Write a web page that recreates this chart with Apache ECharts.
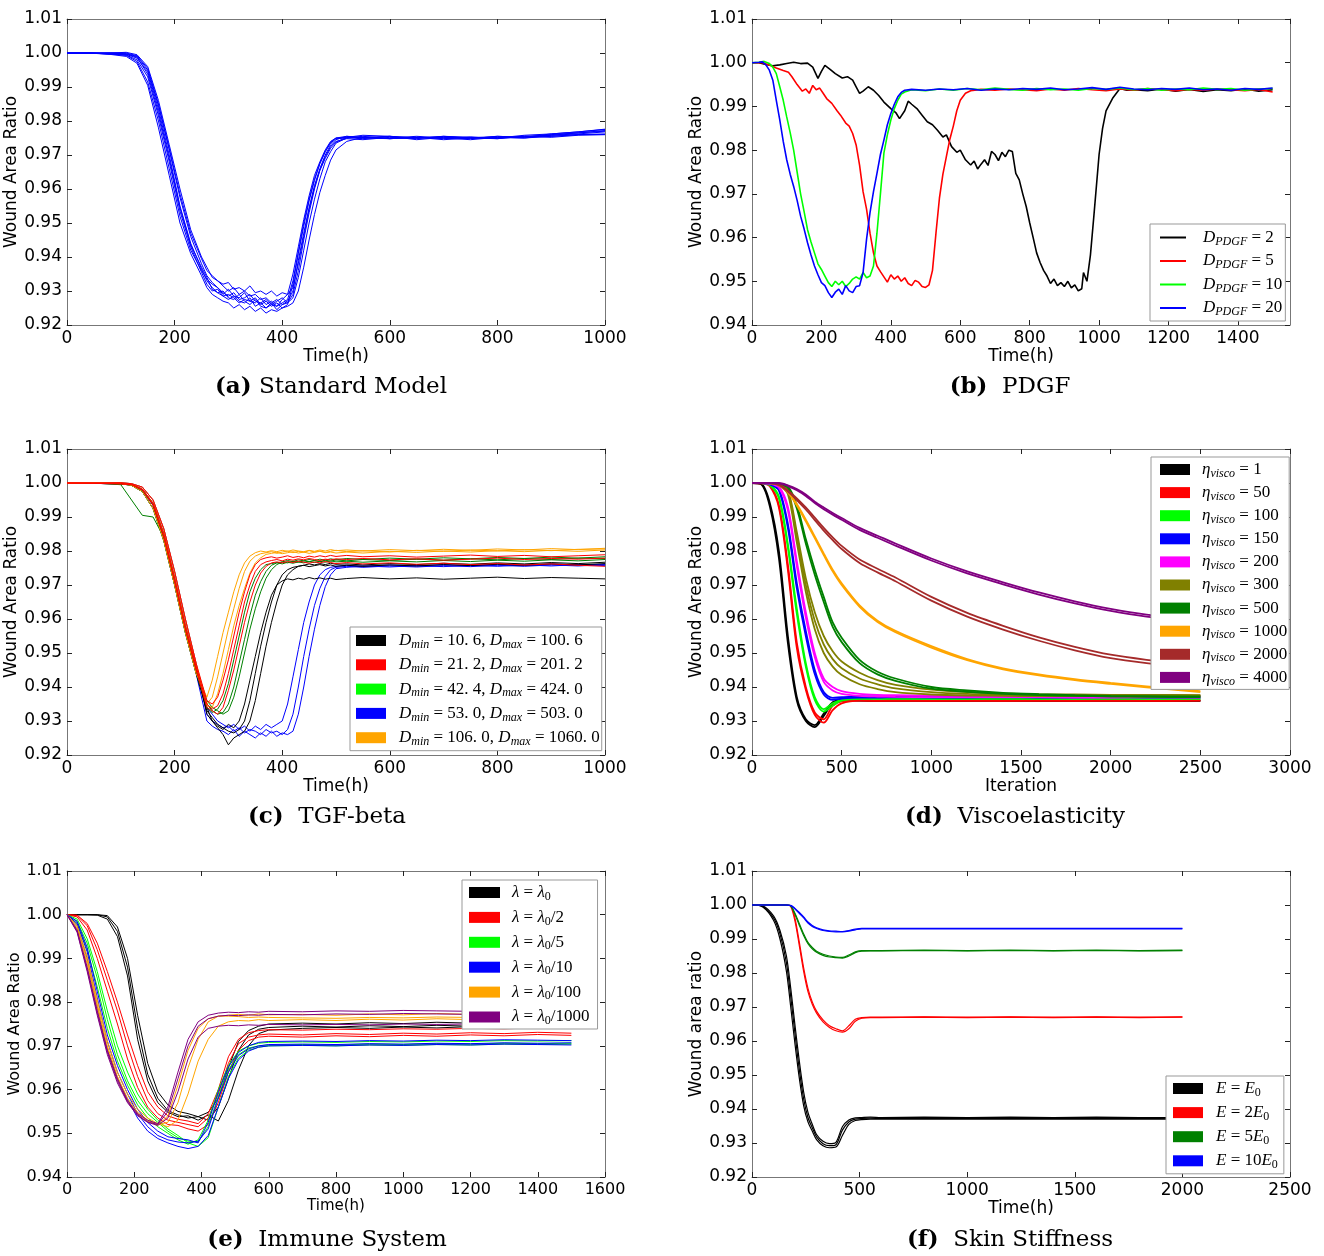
<!DOCTYPE html>
<html><head><meta charset="utf-8">
<script src="https://cdn.jsdelivr.net/npm/echarts@6/dist/echarts.min.js"></script>
<style>html,body{margin:0;padding:0;background:#fff}#c{width:1324px;height:1256px}</style>
</head><body><div id="c"></div>
<script>
// ---------------- Panel (a) Standard Model ----------------
const A_X = [0,40,80,110,130,150,170,190,210,230,250,260,270,280,290,300,310,320,330,340,350,360,370,380,390,400,410,420,430,440,450,460,470,480,490,500,520,550,600,650,700,750,800,850,900,950,1000];
const A_1 = [1,1,.9997,.9993,.9975,.9915,.9800,.9660,.9520,.9420,.9360,.9335,.9320,.9310,.9290,.9305,.9285,.9280,.9295,.9270,.9265,.9280,.9260,.9270,.9255,.9275,.9290,.9350,.9430,.9510,.9580,.9640,.9680,.9715,.9740,.9750,.9752,.9748,.9755,.9745,.9752,.9748,.9755,.9752,.9760,.9765,.9772];
const A_2 = [1,1,1,1.0002,.9995,.9960,.9860,.9730,.9600,.9480,.9400,.9370,.9340,.9330,.9315,.9300,.9310,.9290,.9300,.9285,.9290,.9275,.9280,.9265,.9275,.9260,.9265,.9280,.9340,.9420,.9500,.9570,.9630,.9680,.9710,.9735,.9750,.9755,.9748,.9752,.9745,.9750,.9748,.9755,.9755,.9760,.9760];
const A_3 = [1,1,.9998,.9996,.9985,.9945,.9835,.9700,.9550,.9440,.9365,.9330,.9310,.9295,.9300,.9280,.9275,.9290,.9270,.9260,.9275,.9255,.9250,.9265,.9245,.9260,.9270,.9300,.9390,.9470,.9545,.9610,.9660,.9700,.9730,.9745,.9755,.9752,.9750,.9755,.9750,.9753,.9750,.9758,.9762,.9768,.9775];
const A_4 = [1,1,.9999,.9998,.9990,.9950,.9845,.9715,.9575,.9460,.9380,.9345,.9325,.9310,.9295,.9285,.9295,.9275,.9280,.9290,.9270,.9265,.9275,.9260,.9270,.9280,.9265,.9290,.9360,.9450,.9530,.9600,.9655,.9695,.9725,.9740,.9748,.9745,.9752,.9748,.9755,.9750,.9752,.9750,.9755,.9760,.9762];
const A_5 = [1,1,.9996,.9990,.9970,.9905,.9780,.9640,.9500,.9410,.9345,.9310,.9290,.9280,.9270,.9265,.9250,.9260,.9245,.9255,.9240,.9250,.9235,.9245,.9240,.9250,.9260,.9320,.9410,.9490,.9565,.9625,.9675,.9710,.9738,.9750,.9755,.9750,.9748,.9752,.9748,.9752,.9748,.9755,.9758,.9762,.9768];
const A_6 = [1,1,1.0001,1,.9992,.9955,.9850,.9720,.9585,.9470,.9395,.9360,.9345,.9330,.9320,.9325,.9305,.9310,.9300,.9315,.9295,.9300,.9290,.9300,.9285,.9295,.9290,.9310,.9380,.9460,.9540,.9605,.9655,.9690,.9720,.9738,.9752,.9758,.9755,.9750,.9755,.9752,.9750,.9755,.9752,.9758,.9760];
const A_7 = [1,1,.9998,.9997,.9988,.9938,.9825,.9690,.9545,.9435,.9370,.9340,.9305,.9295,.9285,.9290,.9280,.9265,.9275,.9270,.9280,.9260,.9270,.9255,.9265,.9250,.9255,.9265,.9300,.9370,.9450,.9525,.9590,.9640,.9685,.9715,.9740,.9752,.9748,.9752,.9750,.9745,.9752,.9750,.9758,.9765,.9770];
const A_8 = [1,1,.9997,.9994,.9980,.9930,.9815,.9680,.9535,.9430,.9355,.9320,.9300,.9305,.9285,.9275,.9285,.9270,.9265,.9280,.9255,.9265,.9250,.9260,.9255,.9265,.9275,.9330,.9415,.9500,.9570,.9630,.9675,.9710,.9735,.9748,.9750,.9752,.9755,.9750,.9753,.9750,.9755,.9752,.9762,.9768,.9776];

// ---------------- Panel (b) PDGF ----------------
const B_D2 = [[0,1],[20,1],[40,.9996],[60,.9993],[80,.9995],[100,.9998],[120,1.0001],[140,.9998],[160,.9999],[175,.9990],[190,.9964],[200,.9980],[210,.9994],[225,.9985],[240,.9975],[260,.9965],[275,.9968],[290,.9960],[300,.9945],[310,.9930],[320,.9935],[335,.9945],[350,.9937],[365,.9925],[380,.9910],[400,.9895],[415,.9885],[425,.9872],[440,.9890],[450,.9912],[460,.9905],[475,.9895],[490,.9880],[505,.9865],[520,.9858],[535,.9845],[550,.9830],[560,.9835],[575,.9808],[590,.9795],[600,.9800],[615,.9778],[630,.9766],[640,.9775],[650,.9757],[660,.9768],[670,.9778],[680,.9765],[690,.9797],[700,.9790],[710,.9776],[720,.9795],[730,.9785],[740,.9800],[750,.9797],[760,.9747],[770,.9732],[780,.9700],[790,.9671],[800,.9634],[810,.9600],[820,.9565],[830,.9543],[840,.9525],[850,.9512],[860,.9495],[870,.9505],[880,.9490],[890,.9497],[900,.9488],[910,.9500],[920,.9485],[930,.9492],[940,.9478],[950,.9483],[955,.9520],[965,.9500],[975,.9560],[985,.9650],[1000,.9790],[1010,.9850],[1020,.9890],[1040,.9920],[1060,.9941],[1080,.9937],[1100,.9938],[1140,.9936],[1180,.9940],[1220,.9935],[1260,.9939],[1300,.9934],[1340,.9938],[1380,.9936],[1420,.9940],[1460,.9935],[1500,.9938]];
const B_D5 = [[0,1],[30,1],[50,.9995],[70,.9988],[90,.9982],[105,.9978],[115,.9968],[130,.9950],[145,.9935],[155,.9940],[165,.9930],[175,.9948],[185,.9938],[195,.9942],[205,.9930],[215,.9918],[230,.9907],[245,.9890],[255,.9880],[270,.9862],[280,.9855],[290,.9838],[300,.9812],[310,.9765],[320,.9705],[330,.9665],[340,.9610],[350,.9565],[360,.9535],[370,.9522],[380,.9510],[390,.9498],[400,.9515],[410,.9505],[420,.9512],[430,.9500],[440,.9508],[450,.9495],[460,.9490],[470,.9502],[480,.9498],[490,.9488],[500,.9486],[510,.9492],[520,.9525],[530,.9610],[540,.9690],[550,.9745],[560,.9785],[570,.9825],[580,.9855],[590,.9890],[600,.9914],[615,.9930],[630,.9936],[660,.9939],[700,.9937],[740,.9940],[780,.9938],[820,.9936],[860,.9940],[900,.9937],[940,.9941],[980,.9938],[1020,.9936],[1060,.9940],[1100,.9937],[1140,.9941],[1180,.9938],[1220,.9936],[1260,.9939],[1300,.9937],[1340,.9940],[1380,.9938],[1420,.9936],[1460,.9939],[1500,.9933]];
const B_D10 = [[0,1],[20,1.0001],[35,1.0003],[50,.9998],[60,.9990],[70,.9975],[80,.9945],[90,.9914],[100,.9876],[110,.9840],[120,.9800],[130,.9750],[140,.9700],[150,.9660],[160,.9618],[170,.9590],[180,.9565],[190,.9540],[200,.9527],[210,.9512],[220,.9497],[230,.9488],[240,.9500],[250,.9492],[260,.9500],[270,.9488],[280,.9495],[290,.9505],[300,.9510],[310,.9505],[320,.9520],[330,.9508],[340,.9512],[350,.9535],[360,.9610],[370,.9700],[380,.9793],[390,.9835],[400,.9869],[410,.9895],[420,.9914],[430,.9928],[440,.9933],[460,.9938],[500,.9936],[540,.9940],[580,.9937],[620,.9941],[660,.9938],[700,.9942],[740,.9939],[780,.9937],[820,.9941],[860,.9938],[900,.9940],[940,.9937],[980,.9941],[1020,.9939],[1060,.9942],[1100,.9938],[1140,.9941],[1180,.9937],[1220,.9940],[1260,.9938],[1300,.9942],[1340,.9939],[1380,.9941],[1420,.9937],[1460,.9940],[1500,.9941]];
const B_D20 = [[0,1],[20,1.0001],[30,1.0002],[40,.9995],[50,.9983],[60,.9960],[70,.9914],[80,.9869],[90,.9820],[100,.9778],[110,.9745],[120,.9717],[130,.9685],[140,.9649],[150,.9620],[160,.9588],[170,.9560],[180,.9535],[190,.9515],[200,.9497],[210,.9490],[220,.9474],[230,.9463],[240,.9475],[250,.9482],[260,.9470],[270,.9490],[280,.9478],[290,.9474],[300,.9488],[310,.9490],[320,.9520],[330,.9596],[340,.9657],[350,.9705],[360,.9747],[370,.9790],[380,.9823],[390,.9858],[400,.9884],[410,.9905],[420,.9922],[430,.9932],[440,.9937],[460,.9939],[500,.9937],[540,.9940],[580,.9938],[620,.9941],[660,.9937],[700,.9940],[740,.9938],[780,.9941],[820,.9939],[860,.9942],[900,.9938],[940,.9940],[980,.9943],[1020,.9939],[1060,.9944],[1100,.9940],[1140,.9938],[1180,.9941],[1220,.9939],[1260,.9942],[1300,.9938],[1340,.9940],[1380,.9937],[1420,.9941],[1460,.9939],[1500,.9942]];

// ---------------- Panel (c) TGF-beta ----------------
const C_X = [0,50,100,120,140,160,180,200,220,240,260,270,280,290,300,310,320,330,340,350,360,370,380,390,400,410,420,430,440,450,460,470,480,490,500,520,550,600,650,700,750,800,850,900,950,1000];
const C_F1 = [1,1,.9999,.9996,.9982,.9940,.9850,.9720,.9580,.9460];
const C_F2 = [1,1,.9998,.9993,.9975,.9925,.9830,.9700,.9560,.9440];
const C_F3 = [1,1,1.0001,.9998,.9988,.9950,.9865,.9740,.9600,.9470];
const C_F4 = [1,1,.9995,.9950,.9905,.9900,.9840,.9710,.9570,.9450];
const C_F5 = [1,.9999,.9997,.9995,.9980,.9935,.9840,.9710,.9570,.9450];
const C_K1 = [...C_F2,.9330,.9310,.9290,.9280,.9270,.9265,.9275,.9300,.9360,.9440,.9520,.9590,.9650,.9700,.9730,.9745,.9752,.9755,.9758,.9754,.9757,.9760,.9756,.9759,.9755,.9758,.9755,.9759,.9756,.9760,.9757,.9761,.9758,.9762,.9759,.9763];
const C_K2 = [...C_F5,.9340,.9300,.9280,.9260,.9230,.9250,.9260,.9270,.9300,.9360,.9440,.9520,.9590,.9650,.9700,.9730,.9745,.9755,.9758,.9762,.9759,.9763,.9760,.9764,.9761,.9762,.9759,.9763,.9760,.9764,.9761,.9765,.9762,.9766,.9763,.9767];
const C_K3 = [...C_F1,.9320,.9300,.9285,.9275,.9290,.9280,.9300,.9350,.9420,.9490,.9560,.9620,.9670,.9700,.9712,.9718,.9715,.9720,.9717,.9722,.9718,.9721,.9717,.9720,.9716,.9719,.9722,.9718,.9721,.9717,.9720,.9723,.9719,.9722,.9720,.9718];
const C_B1 = [...C_F3,.9320,.9300,.9290,.9280,.9285,.9270,.9280,.9265,.9275,.9270,.9260,.9275,.9265,.9270,.9260,.9275,.9320,.9400,.9490,.9570,.9640,.9690,.9725,.9745,.9752,.9755,.9752,.9756,.9753,.9757,.9754,.9758,.9755,.9759,.9756,.9760];
const C_B2 = [...C_F2,.9300,.9285,.9275,.9270,.9260,.9275,.9255,.9270,.9260,.9250,.9265,.9255,.9270,.9255,.9265,.9260,.9270,.9320,.9400,.9490,.9570,.9640,.9695,.9730,.9748,.9752,.9756,.9753,.9757,.9754,.9758,.9755,.9759,.9756,.9760,.9757];
const C_B3 = [...C_F5,.9340,.9320,.9300,.9290,.9280,.9290,.9275,.9285,.9270,.9285,.9275,.9290,.9280,.9290,.9300,.9350,.9430,.9510,.9590,.9650,.9700,.9730,.9745,.9752,.9755,.9758,.9755,.9759,.9756,.9760,.9757,.9761,.9758,.9762,.9759,.9761];
const C_G1 = [...C_F2,.9350,.9330,.9320,.9325,.9350,.9400,.9470,.9540,.9610,.9670,.9710,.9740,.9758,.9765,.9768,.9765,.9770,.9767,.9771,.9768,.9772,.9769,.9773,.9770,.9774,.9771,.9775,.9772,.9776,.9773,.9777,.9774,.9778,.9775,.9779,.9778];
const C_G2 = [...C_F1,.9360,.9340,.9330,.9320,.9330,.9370,.9430,.9500,.9570,.9630,.9680,.9720,.9745,.9760,.9768,.9772,.9769,.9774,.9771,.9775,.9772,.9776,.9773,.9777,.9774,.9778,.9775,.9779,.9776,.9780,.9777,.9781,.9778,.9782,.9779,.9783];
const C_G3 = [...C_F4,.9340,.9325,.9335,.9360,.9410,.9480,.9550,.9620,.9680,.9720,.9745,.9760,.9763,.9766,.9762,.9767,.9764,.9768,.9765,.9769,.9766,.9770,.9767,.9771,.9768,.9770,.9767,.9771,.9768,.9772,.9769,.9773,.9770,.9774,.9771,.9775];
const C_O1 = [...C_F3,.9350,.9370,.9430,.9500,.9570,.9630,.9690,.9740,.9770,.9785,.9792,.9795,.9798,.9793,.9797,.9800,.9795,.9799,.9796,.9801,.9797,.9800,.9796,.9799,.9802,.9798,.9801,.9797,.9802,.9799,.9803,.9800,.9804,.9801,.9805,.9806];
const C_O2 = [...C_F1,.9345,.9340,.9380,.9440,.9510,.9580,.9640,.9690,.9735,.9765,.9780,.9790,.9793,.9796,.9792,.9795,.9798,.9794,.9797,.9793,.9796,.9799,.9795,.9797,.9794,.9797,.9794,.9799,.9796,.9800,.9797,.9801,.9798,.9802,.9799,.9803];
const C_O3 = [...C_F2,.9370,.9420,.9490,.9560,.9620,.9680,.9730,.9765,.9785,.9795,.9800,.9797,.9801,.9798,.9802,.9799,.9803,.9800,.9798,.9802,.9799,.9803,.9800,.9804,.9801,.9803,.9800,.9804,.9801,.9805,.9802,.9806,.9803,.9807,.9804,.9808];
const C_R1 = [...C_F1,.9350,.9335,.9345,.9380,.9440,.9510,.9580,.9650,.9700,.9740,.9760,.9768,.9772,.9775,.9771,.9776,.9773,.9777,.9774,.9778,.9775,.9772,.9776,.9774,.9777,.9775,.9778,.9774,.9777,.9773,.9776,.9779,.9775,.9778,.9776,.9779];
const C_R2 = [...C_F5,.9340,.9330,.9320,.9340,.9390,.9450,.9520,.9590,.9650,.9700,.9735,.9755,.9765,.9768,.9765,.9769,.9766,.9770,.9767,.9764,.9768,.9765,.9769,.9766,.9763,.9766,.9762,.9765,.9761,.9764,.9760,.9763,.9759,.9762,.9758,.9755];
const C_R3 = [...C_F3,.9360,.9350,.9370,.9420,.9480,.9550,.9620,.9680,.9730,.9760,.9775,.9780,.9783,.9779,.9782,.9786,.9781,.9784,.9780,.9785,.9782,.9786,.9783,.9787,.9784,.9787,.9783,.9786,.9782,.9785,.9788,.9784,.9787,.9783,.9786,.9789];

// ---------------- Panel (d) Viscoelasticity ----------------
const D_X = [0,50,100,150,200,250,300,350,400,450,500,600,700,800,1000,1200,1400,1600,1800,2000,2200,2500];
const D_1a = [1,.9998,.9940,.9800,.9550,.9370,.9305,.9288,.9322,.9355,.9362,.9361,.9360,.9361,.9360,.9360,.9361,.9360,.9360,.9361,.9360,.9360];
const D_1b = [1,.9997,.9930,.9780,.9530,.9360,.9300,.9282,.9315,.9352,.9360,.9360,.9359,.9360,.9359,.9359,.9360,.9359,.9359,.9360,.9359,.9359];
const D_50a = [1,1,.9992,.9935,.9760,.9530,.9400,.9325,.9305,.9345,.9358,.9361,.9360,.9361,.9360,.9361,.9360,.9361,.9360,.9361,.9360,.9361];
const D_50b = [1,.9999,.9990,.9928,.9745,.9515,.9392,.9318,.9295,.9332,.9352,.9360,.9359,.9360,.9359,.9360,.9359,.9360,.9359,.9360,.9359,.9360];
const D_100a = [1,1,.9995,.9960,.9820,.9630,.9470,.9370,.9335,.9352,.9362,.9366,.9366,.9367,.9366,.9366,.9367,.9366,.9366,.9367,.9366,.9366];
const D_100b = [1,1,.9993,.9955,.9810,.9615,.9460,.9362,.9328,.9345,.9360,.9365,.9365,.9366,.9365,.9365,.9366,.9365,.9365,.9366,.9365,.9365];
const D_150a = [1,1,.9997,.9982,.9880,.9705,.9565,.9450,.9385,.9368,.9370,.9372,.9372,.9373,.9372,.9372,.9373,.9372,.9372,.9373,.9372,.9372];
const D_150b = [1,1,.9996,.9978,.9868,.9690,.9550,.9438,.9378,.9362,.9366,.9369,.9369,.9370,.9369,.9369,.9370,.9369,.9369,.9370,.9369,.9369];
const D_200a = [1,1,.9999,.9990,.9930,.9770,.9620,.9500,.9425,.9400,.9388,.9380,.9377,.9376,.9375,.9375,.9374,.9375,.9374,.9374,.9375,.9374];
const D_200b = [1,1,.9998,.9986,.9920,.9755,.9605,.9488,.9415,.9390,.9380,.9374,.9372,.9371,.9370,.9370,.9370,.9370,.9369,.9369,.9370,.9369];
const D_300a = [1,1,1,.9995,.9975,.9840,.9700,.9595,.9525,.9482,.9455,.9425,.9408,.9396,.9385,.9380,.9378,.9377,.9376,.9376,.9376,.9375];
const D_300b = [1,1,.9999,.9993,.9968,.9825,.9680,.9570,.9500,.9460,.9435,.9408,.9394,.9385,.9378,.9375,.9374,.9373,.9373,.9373,.9372,.9372];
const D_300c = [1,1,1,.9996,.9980,.9855,.9720,.9620,.9550,.9505,.9475,.9442,.9420,.9406,.9392,.9385,.9381,.9379,.9378,.9377,.9377,.9376];
const D_500a = [1,1,1,.9998,.9990,.9935,.9835,.9745,.9665,.9590,.9545,.9480,.9445,.9425,.9400,.9390,.9383,.9379,.9376,.9374,.9373,.9372];
const D_500b = [1,1,1,.9997,.9986,.9925,.9822,.9730,.9650,.9577,.9532,.9470,.9437,.9418,.9395,.9386,.9380,.9376,.9374,.9372,.9371,.9370];
const D_1000a = [1,1,1,.9995,.9975,.9938,.9892,.9843,.9793,.9745,.9705,.9640,.9595,.9565,.9520,.9482,.9455,.9437,.9423,.9412,.9402,.9388];
const D_1000b = [1,1,1,.9994,.9972,.9934,.9887,.9838,.9788,.9740,.9700,.9636,.9591,.9561,.9516,.9479,.9452,.9434,.9420,.9409,.9399,.9385];
const D_2000a = [1,1,1,.9995,.9978,.9955,.9928,.9898,.9868,.9840,.9815,.9775,.9748,.9722,.9665,.9618,.9580,.9546,.9518,.9495,.9480,.9462];
const D_2000b = [1,1,1,.9994,.9975,.9950,.9922,.9891,.9860,.9832,.9806,.9765,.9737,.9711,.9654,.9607,.9569,.9536,.9508,.9485,.9470,.9452];
const D_4000a = [1,1,1,1,.9993,.9982,.9966,.9945,.9928,.9912,.9897,.9868,.9845,.9822,.9778,.9740,.9708,.9678,.9652,.9630,.9613,.9595];
const D_4000b = [1,1,1,.9999,.9991,.9979,.9962,.9941,.9923,.9907,.9892,.9862,.9839,.9816,.9772,.9734,.9702,.9672,.9646,.9624,.9607,.9589];

// ---------------- Panel (e) Immune System ----------------
const E_X = [0,30,60,90,120,150,180,210,240,270,300,330,360,390,420,450,480,510,540,570,600,700,800,900,1000,1100,1200,1300,1400,1500];
const E_K1 = [1,1,1,1,.9995,.9962,.9880,.9740,.9635,.9580,.9552,.9542,.9535,.9538,.9530,.9560,.9625,.9690,.9725,.9738,.9742,.9745,.9743,.9746,.9744,.9747,.9745,.9748,.9746,.9748];
const E_K2 = [1,1,1,.9999,.9990,.9950,.9860,.9715,.9620,.9570,.9548,.9538,.9540,.9530,.9542,.9528,.9575,.9645,.9700,.9728,.9736,.9740,.9742,.9740,.9743,.9741,.9744,.9742,.9745,.9744];
const E_K3 = [1,1,1,1,.9998,.9972,.9900,.9770,.9660,.9595,.9565,.9550,.9545,.9538,.9548,.9580,.9650,.9710,.9735,.9745,.9750,.9752,.9750,.9753,.9751,.9754,.9752,.9755,.9753,.9754];
const E_R1 = [1,.9998,.9975,.9920,.9850,.9780,.9700,.9630,.9575,.9545,.9530,.9525,.9520,.9515,.9535,.9590,.9660,.9705,.9720,.9725,.9727,.9725,.9728,.9726,.9729,.9727,.9730,.9728,.9731,.9729];
const E_R2 = [1,.9995,.9965,.9900,.9825,.9750,.9670,.9605,.9560,.9535,.9520,.9518,.9510,.9505,.9520,.9570,.9640,.9690,.9712,.9720,.9722,.9720,.9723,.9721,.9724,.9722,.9725,.9723,.9726,.9724];
const E_R3 = [1,.9999,.9980,.9935,.9870,.9800,.9725,.9655,.9595,.9560,.9540,.9532,.9528,.9522,.9545,.9600,.9675,.9715,.9730,.9735,.9737,.9736,.9738,.9737,.9739,.9738,.9740,.9739,.9741,.9740];
const E_G1 = [1,.9985,.9935,.9855,.9760,.9680,.9620,.9575,.9545,.9525,.9505,.9490,.9482,.9480,.9515,.9585,.9645,.9680,.9695,.9700,.9702,.9703,.9702,.9704,.9703,.9705,.9704,.9706,.9705,.9706];
const E_G2 = [1,.9990,.9945,.9870,.9780,.9700,.9640,.9590,.9555,.9530,.9510,.9495,.9478,.9470,.9490,.9560,.9630,.9672,.9690,.9697,.9700,.9701,.9700,.9702,.9701,.9703,.9702,.9704,.9703,.9704];
const E_G3 = [1,.9980,.9920,.9835,.9740,.9665,.9610,.9565,.9535,.9515,.9500,.9485,.9475,.9485,.9530,.9600,.9655,.9688,.9700,.9706,.9708,.9709,.9708,.9710,.9709,.9711,.9710,.9712,.9711,.9712];
const E_B1 = [1,.9980,.9915,.9810,.9710,.9640,.9590,.9545,.9515,.9495,.9485,.9480,.9478,.9482,.9510,.9580,.9640,.9678,.9693,.9700,.9703,.9704,.9703,.9705,.9704,.9706,.9705,.9707,.9706,.9707];
const E_B2 = [1,.9975,.9900,.9790,.9690,.9625,.9578,.9535,.9505,.9488,.9478,.9470,.9465,.9470,.9495,.9560,.9625,.9668,.9688,.9697,.9700,.9701,.9700,.9702,.9701,.9703,.9702,.9704,.9703,.9702];
const E_B3 = [1,.9985,.9925,.9825,.9725,.9655,.9600,.9555,.9525,.9505,.9492,.9488,.9485,.9478,.9525,.9595,.9652,.9685,.9700,.9708,.9710,.9711,.9710,.9712,.9711,.9713,.9712,.9714,.9713,.9712];
const E_O1 = [1,.9970,.9895,.9795,.9700,.9630,.9580,.9548,.9530,.9520,.9525,.9570,.9650,.9715,.9755,.9768,.9770,.9772,.9770,.9773,.9771,.9772,.9770,.9773,.9771,.9774,.9772,.9773,.9771,.9773];
const E_O2 = [1,.9975,.9905,.9805,.9712,.9640,.9590,.9555,.9535,.9522,.9515,.9530,.9590,.9665,.9715,.9745,.9755,.9758,.9757,.9760,.9758,.9760,.9758,.9761,.9759,.9762,.9760,.9761,.9759,.9760];
const E_O3 = [1,.9968,.9888,.9788,.9695,.9625,.9575,.9545,.9528,.9518,.9540,.9610,.9690,.9740,.9762,.9768,.9768,.9767,.9765,.9766,.9765,.9764,.9763,.9765,.9764,.9766,.9765,.9766,.9764,.9765];
const E_P1 = [1,.9965,.9880,.9780,.9690,.9625,.9575,.9545,.9530,.9522,.9560,.9640,.9715,.9755,.9770,.9775,.9777,.9776,.9778,.9777,.9779,.9778,.9780,.9779,.9781,.9780,.9779,.9778,.9779,.9778];
const E_P2 = [1,.9960,.9870,.9770,.9680,.9615,.9570,.9540,.9525,.9518,.9535,.9595,.9670,.9720,.9740,.9745,.9747,.9746,.9748,.9747,.9749,.9748,.9749,.9748,.9750,.9749,.9750,.9749,.9750,.9749];
const E_P3 = [1,.9962,.9875,.9775,.9685,.9620,.9572,.9542,.9526,.9520,.9550,.9625,.9700,.9745,.9762,.9768,.9770,.9769,.9771,.9770,.9772,.9771,.9773,.9772,.9774,.9773,.9772,.9771,.9772,.9771];

// ---------------- Panel (f) Skin Stiffness ----------------
const F_X = [0,50,100,130,160,180,200,220,240,260,280,300,330,360,390,420,450,480,510,550,600,800,1000,1200,1400,1600,1800,2000];
const F_K1 = [1,.9996,.9962,.9915,.9830,.9730,.9620,.9515,.9430,.9375,.9345,.9318,.9298,.9292,.9295,.9338,.9362,.9370,.9372,.9373,.9372,.9373,.9372,.9373,.9372,.9373,.9372,.9373];
const F_K2 = [1,.9994,.9955,.9900,.9805,.9700,.9590,.9490,.9410,.9362,.9335,.9310,.9292,.9286,.9288,.9322,.9355,.9366,.9369,.9370,.9370,.9371,.9370,.9371,.9370,.9371,.9370,.9370];
const F_K3 = [1,.9997,.9968,.9925,.9850,.9755,.9645,.9540,.9450,.9390,.9355,.9325,.9305,.9298,.9302,.9348,.9368,.9374,.9375,.9376,.9375,.9376,.9375,.9376,.9375,.9376,.9375,.9375];
const F_R1 = [1,1,1,1,1,.9998,.9960,.9890,.9815,.9755,.9715,.9688,.9662,.9645,.9636,.9630,.9645,.9664,.9669,.9670,.9670,.9671,.9670,.9671,.9670,.9671,.9670,.9671];
const F_R2 = [1,1,1,1,1,.9996,.9952,.9880,.9805,.9745,.9708,.9682,.9656,.9640,.9630,.9626,.9636,.9658,.9667,.9669,.9669,.9670,.9669,.9670,.9669,.9670,.9669,.9670];
const F_G1 = [1,1,1,1,1,.9998,.9975,.9945,.9915,.9890,.9875,.9864,.9855,.9850,.9847,.9846,.9853,.9862,.9866,.9866,.9866,.9867,.9866,.9867,.9866,.9867,.9866,.9867];
const F_G2 = [1,1,1,1,1,.9997,.9972,.9940,.9910,.9886,.9871,.9861,.9852,.9847,.9845,.9844,.9850,.9860,.9864,.9865,.9865,.9866,.9865,.9866,.9865,.9866,.9865,.9866];
const F_B1 = [1,1,1,1,1,.9999,.9990,.9978,.9965,.9950,.9940,.9933,.9927,.9924,.9923,.9922,.9925,.9929,.9931,.9931,.9931,.9931,.9931,.9931,.9931,.9931,.9931,.9931];
const F_B2 = [1,1,1,1,1,.9998,.9988,.9975,.9962,.9947,.9937,.9931,.9925,.9922,.9921,.9921,.9923,.9927,.9930,.9930,.9930,.9930,.9930,.9930,.9930,.9930,.9930,.9930];

// ---------------- Labels ----------------
const LEG_B = ['D_{PDGF} = 2','D_{PDGF} = 5','D_{PDGF} = 10','D_{PDGF} = 20'];
const LEG_C = ['D_{min} = 10. 6, D_{max} = 100. 6','D_{min} = 21. 2, D_{max} = 201. 2','D_{min} = 42. 4, D_{max} = 424. 0','D_{min} = 53. 0, D_{max} = 503. 0','D_{min} = 106. 0, D_{max} = 1060. 0'];
const LEG_D = ['η_{visco} = 1','η_{visco} = 50','η_{visco} = 100','η_{visco} = 150','η_{visco} = 200','η_{visco} = 300','η_{visco} = 500','η_{visco} = 1000','η_{visco} = 2000','η_{visco} = 4000'];
const LEG_E = ['λ = λ_{0}','λ = λ_{0}/2','λ = λ_{0}/5','λ = λ_{0}/10','λ = λ_{0}/100','λ = λ_{0}/1000'];
const LEG_F = ['E = E_{0}','E = 2E_{0}','E = 5E_{0}','E = 10E_{0}'];
const CAPTIONS = [['(a)',' Standard Model'],['(b)','  PDGF'],['(c)','  TGF-beta'],['(d)','  Viscoelasticity'],['(e)','  Immune System'],['(f)','  Skin Stiffness']];
const X_NAMES = ['Time(h)','Time(h)','Time(h)','Iteration','Time(h)','Time(h)'];
const Y_NAMES = ['Wound Area Ratio','Wound Area Ratio','Wound Area Ratio','Wound Area Ratio','Wound Area Ratio','Wound area ratio'];

// ---------------- Build ----------------
const K='#000000', R='#ff0000', LIME='#00ff00', B='#0000ff', O='#ffa500', M='#ff00ff', OL='#808000', G='#008000', BR='#a52a2a', P='#800080';
const FRAME = '#777';
const SANS = 'DejaVu Sans', SERIF = 'DejaVu Serif', LSERIF = 'Liberation Serif';

const LAYOUT = [
  {left:67, top:19, xmin:0, xmax:1000, xint:200, ymin:0.92, ymax:1.01, fs:17, cap:[331,387]},
  {left:752, top:19, xmin:0, xmax:1550, xint:200, ymin:0.94, ymax:1.01, fs:17, cap:[1010,387], hideMax:true},
  {left:67, top:449, xmin:0, xmax:1000, xint:200, ymin:0.92, ymax:1.01, fs:17, cap:[327,817]},
  {left:752, top:449, xmin:0, xmax:3000, xint:500, ymin:0.92, ymax:1.01, fs:17, cap:[1015,817]},
  {left:67, top:871, xmin:0, xmax:1600, xint:200, ymin:0.94, ymax:1.01, fs:16, cap:[327,1240]},
  {left:752, top:871, xmin:0, xmax:2500, xint:500, ymin:0.92, ymax:1.01, fs:17, cap:[1010,1240]}
];
const W = 538, H = 306;

const grids = [], xAxes = [], yAxes = [];
LAYOUT.forEach((L, i) => {
  grids.push({left:L.left, top:L.top, width:W, height:H, containLabel:false});
  const tick = {inside:true, length:5, lineStyle:{color:'#222', width:1}};
  const line = {show:true, onZero:false, lineStyle:{color:FRAME, width:1}};
  const lab = {fontFamily:SANS, fontSize:L.fs, color:'#000'};
  xAxes.push({gridIndex:i, type:'value', min:L.xmin, max:L.xmax, interval:L.xint, position:'bottom',
    axisLine:line, axisTick:tick, splitLine:{show:false},
    axisLabel:Object.assign({margin:5, showMaxLabel: !L.hideMax, showMinLabel:true, formatter:v=>String(Math.round(v))}, lab),
    name:X_NAMES[i], nameLocation:'middle', nameGap:i===4?22:21,
    nameTextStyle:{fontFamily:SANS, fontSize:i===4?15:17, color:'#000'}});
  xAxes.push({gridIndex:i, type:'value', min:L.xmin, max:L.xmax, interval:L.xint, position:'top',
    axisLine:line, axisTick:tick, splitLine:{show:false}, axisLabel:{show:false}});
  yAxes.push({gridIndex:i, type:'value', min:L.ymin, max:L.ymax, interval:0.01, position:'left',
    axisLine:line, axisTick:tick, splitLine:{show:false},
    axisLabel:Object.assign({margin:5, formatter:v=>v.toFixed(2), showMaxLabel:true, showMinLabel:true}, lab),
    name:Y_NAMES[i], nameLocation:'middle', nameGap:i===4?44:43,
    nameTextStyle:{fontFamily:SANS, fontSize:i===4?16:17, color:'#000'}});
  yAxes.push({gridIndex:i, type:'value', min:L.ymin, max:L.ymax, interval:0.01, position:'right',
    axisLine:line, axisTick:tick, splitLine:{show:false}, axisLabel:{show:false}});
});

const series = [];
function pairs(xs, ys){ return xs.map((x, k) => [x, ys[k]]); }
function add(panel, name, color, width, xs, curves, smooth){
  curves.forEach(ys => series.push({
    type:'line', name, xAxisIndex:2*panel, yAxisIndex:2*panel,
    data: xs ? pairs(xs, ys) : ys, symbol:'none', showSymbol:false,
    smooth: smooth || false, color, lineStyle:{color, width},
    emphasis:{disabled:true}, silent:true, animation:false
  }));
}
// (a)
add(0, 'standard', B, 1, A_X, [A_1,A_2,A_3,A_4,A_5,A_6,A_7,A_8]);
// (b)
add(1, LEG_B[0], K, 1.6, null, [B_D2]);
add(1, LEG_B[1], R, 1.6, null, [B_D5]);
add(1, LEG_B[2], LIME, 1.6, null, [B_D10]);
add(1, LEG_B[3], B, 1.6, null, [B_D20]);
// (c)
add(2, LEG_C[3], B, 1, C_X, [C_B1,C_B2,C_B3]);
add(2, LEG_C[0], K, 1, C_X, [C_K1,C_K2,C_K3]);
add(2, LEG_C[2], G, 1, C_X, [C_G1,C_G2,C_G3]);
add(2, LEG_C[4], O, 1, C_X, [C_O1,C_O2,C_O3]);
add(2, LEG_C[1], R, 1, C_X, [C_R1,C_R2,C_R3]);
// (d)
const DGROUPS = [[K,[D_1a,D_1b]],[R,[D_50a,D_50b]],[LIME,[D_100a,D_100b]],[B,[D_150a,D_150b]],[M,[D_200a,D_200b]],[OL,[D_300a,D_300b,D_300c]],[G,[D_500a,D_500b]],[O,[D_1000a,D_1000b]],[BR,[D_2000a,D_2000b]],[P,[D_4000a,D_4000b]]];
DGROUPS.forEach((g, k) => add(3, LEG_D[k], g[0], 1.8, D_X, g[1], 0.3));
// (e)
add(4, LEG_E[0], K, 1, E_X, [E_K1,E_K2,E_K3]);
add(4, LEG_E[1], R, 1, E_X, [E_R1,E_R2,E_R3]);
add(4, LEG_E[2], LIME, 1, E_X, [E_G1,E_G2,E_G3]);
add(4, LEG_E[3], B, 1, E_X, [E_B1,E_B2,E_B3]);
add(4, LEG_E[4], O, 1, E_X, [E_O1,E_O2,E_O3]);
add(4, LEG_E[5], P, 1, E_X, [E_P1,E_P2,E_P3]);
// (f)
add(5, LEG_F[0], K, 1.2, F_X, [F_K1,F_K2,F_K3], 0.3);
add(5, LEG_F[1], R, 1.2, F_X, [F_R1,F_R2], 0.3);
add(5, LEG_F[2], G, 1.2, F_X, [F_G1,F_G2], 0.3);
add(5, LEG_F[3], B, 1.2, F_X, [F_B1,F_B2], 0.3);

// tiny TeX-like -> rich text
function toRich(s){
  let out = '', buf = '', type = null;
  const flush = () => { if (buf) { out += '{' + type + '|' + buf + '}'; buf = ''; } };
  for (let i = 0; i < s.length; i++) {
    const ch = s[i];
    if (ch === '_' && s[i+1] === '{') {
      flush(); const j = s.indexOf('}', i); const sub = s.slice(i+2, j);
      out += '{' + (/^\d+$/.test(sub) ? 'z' : 's') + '|' + sub + '}'; i = j; type = null; continue;
    }
    const t = /[A-Za-zλη]/.test(ch) ? 'i' : 'n';
    if (t !== type) { flush(); type = t; }
    buf += ch;
  }
  flush(); return out;
}
function rich(gw, fs){
  return {
    g:{width:gw, fontSize:fs, lineHeight:20},
    i:{fontFamily:LSERIF, fontStyle:'italic', fontSize:fs, lineHeight:20, color:'#000'},
    n:{fontFamily:LSERIF, fontSize:fs, lineHeight:20, color:'#000'},
    s:{fontFamily:LSERIF, fontStyle:'italic', fontSize:12, lineHeight:12, verticalAlign:'bottom', color:'#000'},
    z:{fontFamily:LSERIF, fontSize:12, lineHeight:12, verticalAlign:'bottom', color:'#000'}
  };
}
function legend(names, colors, o){
  return {
    orient:'vertical', left:o.left, top:o.top, padding:o.pad, itemGap:o.gap,
    itemWidth:o.iw, itemHeight:o.ih, icon:'rect', selectedMode:false,
    backgroundColor:'#fff', borderColor:'#999', borderWidth:1, borderRadius:0,
    itemStyle:{borderWidth:0},
    data: names.map((n, k) => ({name:n, itemStyle:{color:colors[k], borderWidth:0}})),
    formatter: n => '{g| }' + toRich(n),
    textStyle:{rich:rich(o.gw, o.fs || 17)}
  };
}
const legends = [
  legend(LEG_B, [K,R,LIME,B], {left:1150, top:224, pad:[5,3,3,10], gap:5, iw:26, ih:2, gw:12}),
  legend(LEG_C, [K,R,LIME,B,O], {left:350, top:627, pad:[5,2,3,6], gap:5.8, iw:30, ih:11, gw:8}),
  legend(LEG_D, [K,R,LIME,B,M,OL,G,O,BR,P], {left:1151, top:457, pad:[4,2,2,9], gap:4.6, iw:30, ih:11, gw:7}),
  legend(LEG_E, [K,R,LIME,B,O,P], {left:462, top:880, pad:[4,8,2,7], gap:6.4, iw:31, ih:11, gw:7}),
  legend(LEG_F, [K,R,G,B], {left:1166, top:1076, pad:[4,6,3,7], gap:5.6, iw:30, ih:11, gw:8})
];

const graphics = CAPTIONS.map((c, i) => ({
  type:'text', x:LAYOUT[i].cap[0], y:LAYOUT[i].cap[1], silent:true,
  style:{
    text:'{b|' + c[0] + '}{n|' + c[1] + '}',
    align:'center', verticalAlign:'middle', textAlign:'center', textVerticalAlign:'middle',
    rich:{
      b:{fontFamily:SERIF, fontWeight:'bold', fontSize:23, fill:'#000', color:'#000'},
      n:{fontFamily:SERIF, fontSize:23, fill:'#000', color:'#000'}
    }
  }
}));

const chart = echarts.init(document.getElementById('c'), null, {renderer:'canvas'});
chart.setOption({
  animation:false, backgroundColor:'#fff',
  grid:grids, xAxis:xAxes, yAxis:yAxes, series, legend:legends, graphic:graphics
});
</script></body></html>
